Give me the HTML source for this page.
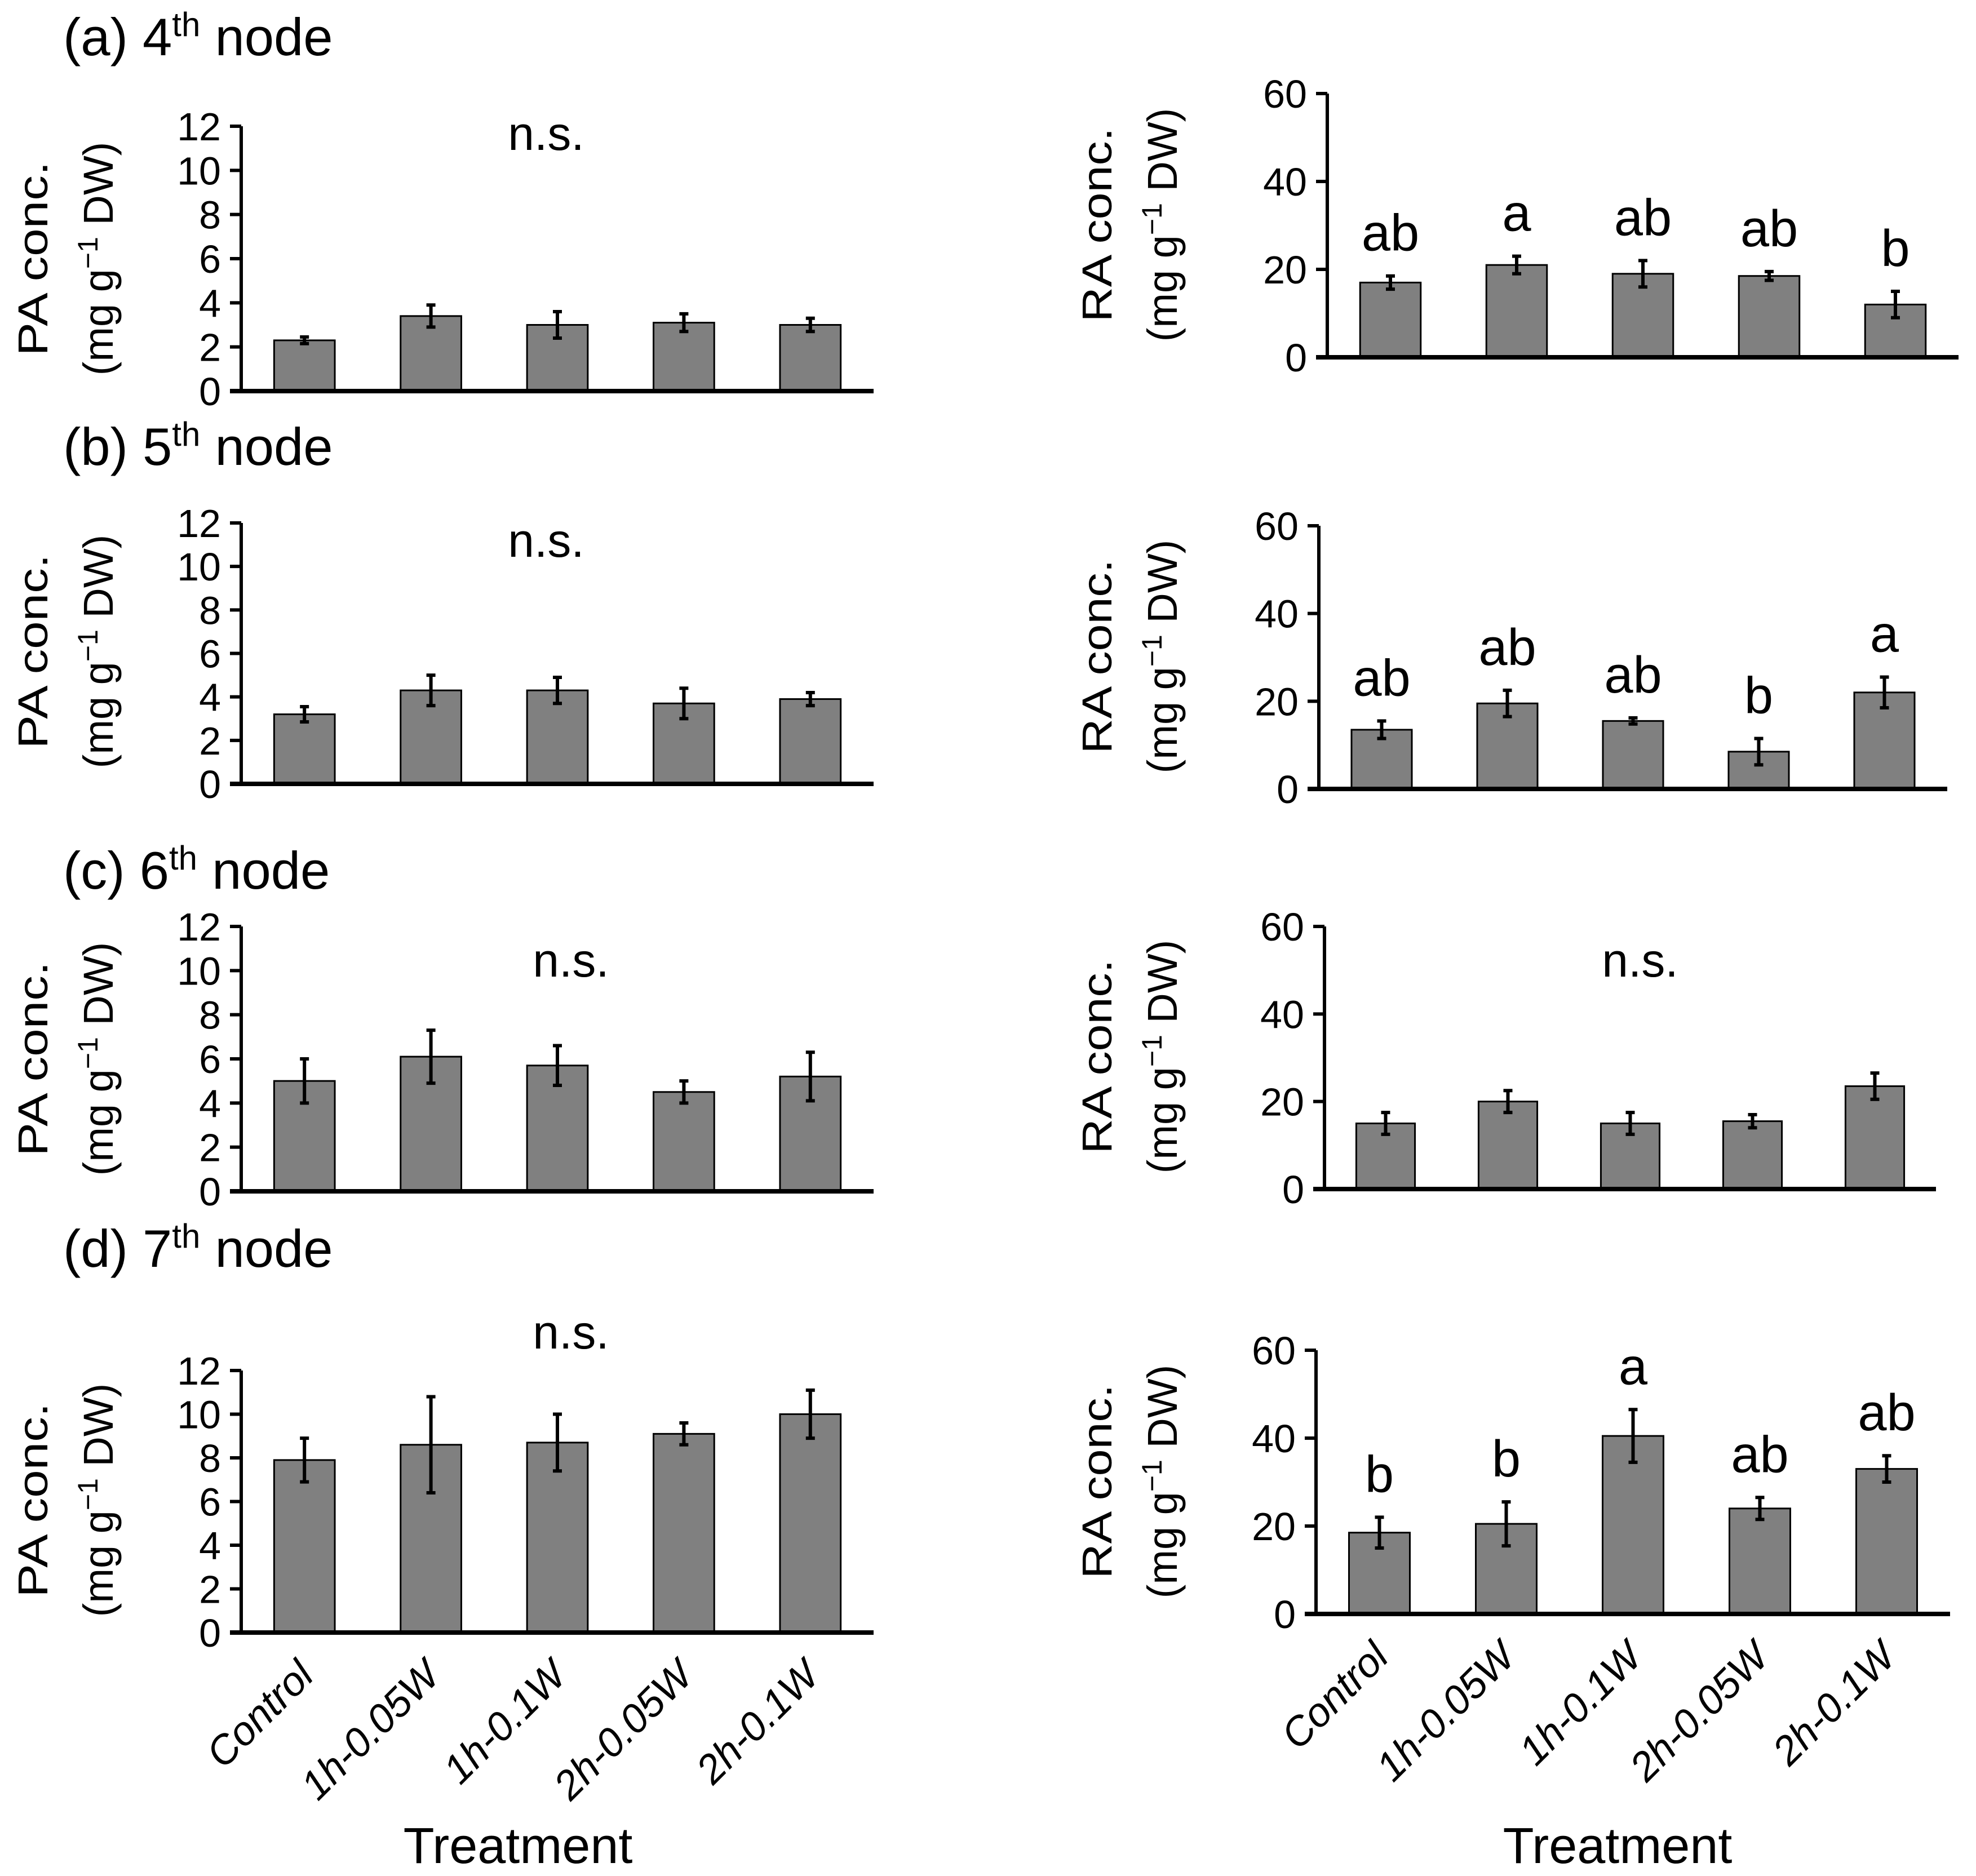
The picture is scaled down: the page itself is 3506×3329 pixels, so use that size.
<!DOCTYPE html>
<html><head><meta charset="utf-8"><style>
html,body{margin:0;padding:0;background:#fff;}
svg{display:block;font-family:"Liberation Sans",sans-serif;}
</style></head><body>
<svg id="fig" width="3506" height="3329" viewBox="0 0 3506 3329" xmlns="http://www.w3.org/2000/svg"></svg>
<script>
const categories = ["Control","1h-0.05W","1h-0.1W","2h-0.05W","2h-0.1W"];
const paTicks = [0,2,4,6,8,10,12];
const raTicks = [0,20,40,60];
const paA = [2.3,3.4,3.0,3.1,3.0];   const paAerr = [0.15,0.5,0.6,0.4,0.3];
const paB = [3.2,4.3,4.3,3.7,3.9];   const paBerr = [0.35,0.7,0.6,0.7,0.3];
const paC = [5.0,6.1,5.7,4.5,5.2];   const paCerr = [1.0,1.2,0.9,0.5,1.1];
const paD = [7.9,8.6,8.7,9.1,10.0];  const paDerr = [1.0,2.2,1.3,0.5,1.1];
const raA = [17,21,19,18.5,12];      const raAerr = [1.5,2,3,1,3];
const raB = [13.5,19.5,15.5,8.5,22]; const raBerr = [2,3,0.7,3,3.5];
const raC = [15,20,15,15.5,23.5];    const raCerr = [2.5,2.5,2.5,1.5,3];
const raD = [18.5,20.5,40.5,24,33];  const raDerr = [3.5,5,6,2.5,3];
const raALetters = ["ab","a","ab","ab","b"];
const raBLetters = ["ab","ab","ab","b","a"];
const raDLetters = ["b","b","a","ab","ab"];

const NS="http://www.w3.org/2000/svg";
const svg=document.getElementById('fig');
function mk(tag,attrs,parent){const e=document.createElementNS(NS,tag);for(const k in attrs)e.setAttribute(k,attrs[k]);(parent||svg).appendChild(e);return e;}

function panel(p){
  const g=mk('g',{});
  
  
  const ymax=p.ticks[p.ticks.length-1];
  const ys=v=>p.y0-(v/ymax)*(p.y0-p.ytop);
  const cw=(p.x1-p.x0)/categories.length;
  const xc=i=>p.x0+cw*(i+0.5);
  p.vals.forEach((v,i)=>{
    const bw=cw*0.48;
    const r=mk('rect',{x:xc(i)-bw/2,y:ys(v),width:bw,height:p.y0-ys(v),fill:'#808080',stroke:'#000','stroke-width':3},g);
    
    
    const hi=ys(v+p.err[i]), lo=ys(Math.max(0,v-p.err[i]));
    const eb=mk('path',{d:`M${xc(i)} ${hi}V${lo}M${xc(i)-8} ${hi}H${xc(i)+8}M${xc(i)-8} ${lo}H${xc(i)+8}`,stroke:'#000','stroke-width':6,fill:'none'},g);
    
    
    if(p.letters){
      const t=mk('text',{x:xc(i),y:hi-45,'text-anchor':'middle','font-size':92},g);
      t.textContent=p.letters[i];
      
      
    }
  });
  const ax=mk('path',{d:`M${p.x0} ${ys(ymax)}V${p.y0}`,stroke:'#000','stroke-width':6},g);
  
  
  const xa=mk('path',{d:`M${p.x0-20} ${p.y0}H${p.x1}`,stroke:'#000','stroke-width':8},g);
  
  
  p.ticks.forEach(t=>{
    mk('path',{d:`M${p.x0-20} ${ys(t)}H${p.x0}`,stroke:'#000','stroke-width':6},g);
    const tl=mk('text',{x:p.x0-36,y:ys(t)+25,'text-anchor':'end','font-size':70},g);
    tl.textContent=t;
    
    
  });
  const cy=p.y0-235;
  const t1=mk('text',{transform:`translate(${p.lx1} ${cy}) rotate(-90)`,'text-anchor':'middle','font-size':74,textLength:345,lengthAdjust:'spacingAndGlyphs'},g);
  t1.textContent=p.label;
  
  
  const t2=mk('text',{transform:`translate(${p.lx2} ${cy}) rotate(-90)`,'text-anchor':'middle','font-size':74},g);
  t2.innerHTML='(mg g<tspan dy="-27" font-size="50">−1</tspan><tspan dy="27"> DW)</tspan>';
  
  
  if(p.ns){
    const n=mk('text',{x:p.ns[0],y:p.ns[1],'text-anchor':'middle','font-size':84},g);
    n.textContent='n.s.';
    
    
  }
  if(p.xlabels){
    categories.forEach((c,i)=>{
      const tx=xc(i)+20, ty=p.y0+80;
      const l=mk('text',{transform:`translate(${tx} ${ty}) rotate(-45)`,'text-anchor':'end','font-size':72,'font-style':'italic'},g);
      l.textContent=c;
      
      
    });
    const tt=mk('text',{x:p.tx,y:3306,'text-anchor':'middle','font-size':90},g);
    tt.textContent='Treatment';
    
    
  }
}
function title(txt,sup,rest,y){
  const t=mk('text',{x:112,y:y,'font-size':94});
  t.innerHTML=txt+'<tspan dy="-34" font-size="60">'+sup+'</tspan><tspan dy="34">'+rest+'</tspan>';
  
  
}
title('(a) 4','th',' node',98);
title('(b) 5','th',' node',825);
title('(c) 6','th',' node',1577);
title('(d) 7','th',' node',2248);

const L={x0:428,x1:1550,lx1:84,lx2:200,ticks:paTicks,label:'PA conc.'};
panel(Object.assign({},L,{name:'pa-4th',ytop:224,y0:694,vals:paA,err:paAerr,ns:[969,266]}));
panel(Object.assign({},L,{name:'pa-5th',ytop:928,y0:1391,vals:paB,err:paBerr,ns:[969,988]}));
panel(Object.assign({},L,{name:'pa-6th',ytop:1644,y0:2114,vals:paC,err:paCerr,ns:[1013,1733]}));
panel(Object.assign({},L,{name:'pa-7th',ytop:2432,y0:2897,vals:paD,err:paDerr,ns:[1013,2393],xlabels:true,tx:919}));
const R={lx1:1972,lx2:2088,ticks:raTicks,label:'RA conc.'};
panel(Object.assign({},R,{name:'ra-4th',x0:2355,x1:3475,ytop:166,y0:634,vals:raA,err:raAerr,letters:raALetters}));
panel(Object.assign({},R,{name:'ra-5th',x0:2340,x1:3455,ytop:933,y0:1400,vals:raB,err:raBerr,letters:raBLetters}));
panel(Object.assign({},R,{name:'ra-6th',x0:2350,x1:3435,ytop:1644,y0:2110,vals:raC,err:raCerr,ns:[2910,1733]}));
panel(Object.assign({},R,{name:'ra-7th',x0:2335,x1:3460,ytop:2396,y0:2864,vals:raD,err:raDerr,letters:raDLetters,xlabels:true,tx:2870}));
</script>
</body></html>
